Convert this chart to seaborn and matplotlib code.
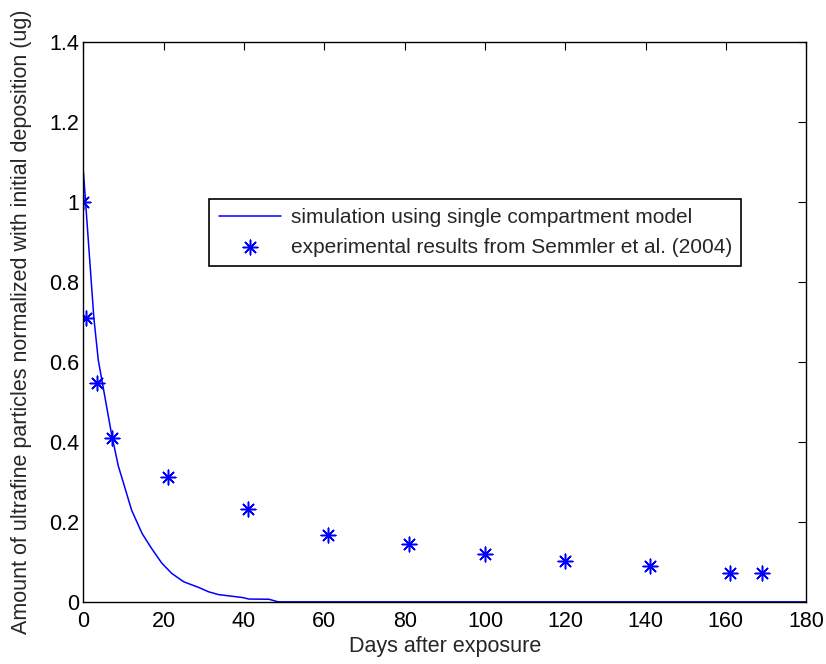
import matplotlib
matplotlib.use('Agg')
import matplotlib.pyplot as plt
import seaborn as sns
import pandas as pd

# simulation curve
sim_days = [0, 2.6, 3.7, 5.4, 7, 8.7, 10, 12, 14.6, 17, 19.5, 22, 25,
            28.7, 31.2, 33.7, 37, 39.5, 41.2, 46.2, 47.8, 48.5, 100, 180]
sim_vals = [1.075, 0.71, 0.605, 0.51, 0.42, 0.34, 0.297, 0.23, 0.172,
            0.134, 0.098, 0.072, 0.051, 0.037, 0.026, 0.019, 0.015, 0.012, 0.008,
            0.0075, 0.003, 0.001, 0.001, 0.001]

# experimental points, Semmler et al. (2004)
exp_days = [0, 0.7, 3.3, 7.2, 21, 41, 61, 81, 100, 120, 141, 161, 169]
exp_vals = [1.0, 0.71, 0.548, 0.41, 0.313, 0.232, 0.168, 0.145, 0.12, 0.103, 0.09, 0.073, 0.073]

sim = pd.DataFrame({'day': sim_days, 'val': sim_vals})
exp = pd.DataFrame({'day': exp_days, 'val': exp_vals})

sns.set_style('white')
plt.rcParams['font.family'] = ['Liberation Sans', 'DejaVu Sans']
plt.rcParams['xtick.direction'] = 'in'
plt.rcParams['ytick.direction'] = 'in'

fs = 15.5
fig = plt.figure(figsize=(8.26, 6.64), dpi=100)
ax = fig.add_axes([0.101, 0.093, 0.875, 0.844])

sns.lineplot(data=sim, x='day', y='val', ax=ax, color='blue', linewidth=1.1,
             label='simulation using single compartment model', sort=False)
sns.scatterplot(data=exp, x='day', y='val', ax=ax, marker=(8, 2, 0), s=110,
                color='blue', edgecolor='blue', linewidth=1.1,
                label='experimental results from Semmler et al. (2004)')

ax.set_xlim(0, 180)
ax.set_ylim(0, 1.4)
ax.set_xticks(range(0, 181, 20))
ax.set_yticks([0, 0.2, 0.4, 0.6, 0.8, 1.0, 1.2, 1.4])
ax.set_yticklabels(['0', '0.2', '0.4', '0.6', '0.8', '1', '1.2', '1.4'])
ax.tick_params(labelsize=fs, length=6, width=0.8, top=True, right=True, colors='black')
ax.tick_params(axis='x', pad=6.5)
ax.tick_params(axis='y', pad=3)
ax.set_xlabel('Days after exposure', fontsize=fs, labelpad=3)
ax.set_ylabel('Amount of ultrafine particles normalized with initial deposition (ug)',
              fontsize=fs, labelpad=12)
for sp in ax.spines.values():
    sp.set_color('black')
    sp.set_linewidth(1.0)

leg = ax.legend(loc='upper right', bbox_to_anchor=(0.91, 0.72), fontsize=15,
                frameon=True, fancybox=False, edgecolor='black', framealpha=1,
                handlelength=3.0, handletextpad=0.45, borderpad=0.45, labelspacing=0.5,
                borderaxespad=0)
leg.get_frame().set_linewidth(1.2)

fig.savefig('out.png', dpi=100)
